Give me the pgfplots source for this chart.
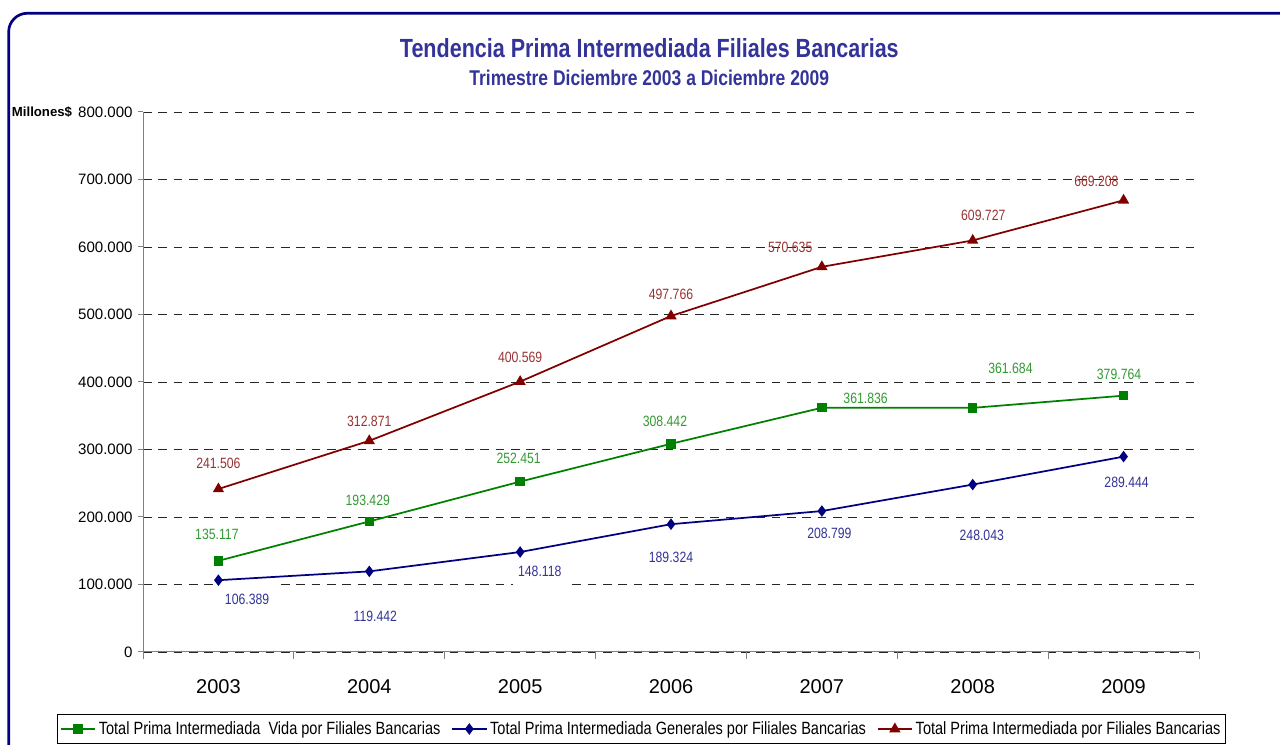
\documentclass[border=0pt]{standalone}
\usepackage{fontspec}
\setmainfont{Liberation Sans}
\newfontfamily\narrow{Liberation Sans}[FakeStretch=0.82]
\usepackage{pgfplots}
\pgfplotsset{compat=1.18}
\definecolor{frameblue}{HTML}{000080}
\definecolor{titleblue}{HTML}{333399}
\definecolor{sgreen}{HTML}{008000}
\definecolor{sblue}{HTML}{000080}
\definecolor{sred}{HTML}{800000}
\definecolor{lgreen}{HTML}{339933}
\definecolor{lblue}{HTML}{333399}
\definecolor{lred}{HTML}{993333}
\begin{document}
\begin{tikzpicture}[x=1pt,y=1pt]
\path[use as bounding box] (0,0) rectangle (960,558.75);
\draw[frameblue, line width=2pt, rounded corners=14pt] (6.5,548.8) rectangle (1000,-40);
\node[titleblue, font=\narrow\bfseries\fontsize{19.7}{23}\selectfont] at (487,522.75) {Tendencia Prima Intermediada Filiales Bancarias};
\node[titleblue, font=\narrow\bfseries\fontsize{16}{18}\selectfont] at (487,500.25) {Trimestre Diciembre 2003 a Diciembre 2009};
\node[font=\bfseries\fontsize{9.9}{11}\selectfont] at (31.5,474.75) {Millones\$};
\begin{axis}[
  at={(107.25pt,69.75pt)}, anchor=south west,
  scale only axis, width=792pt, height=405pt,
  xmin=-0.5, xmax=6.5, ymin=0, ymax=800,
  axis x line*=bottom, axis y line*=left,
  axis line style={draw=gray, line width=0.75pt},
  tick align=outside,
  major tick length=3.75pt, minor tick length=5pt,
  tick style={draw=gray, line width=0.75pt},
  xtick={0,1,2,3,4,5,6},
  xticklabels={2003,2004,2005,2006,2007,2008,2009},
  major x tick style={draw=none},
  minor xtick={-0.5,0.5,1.5,2.5,3.5,4.5,5.5,6.5},
  ytick={0,100,200,300,400,500,600,700,800},
  yticklabels={0,100.000,200.000,300.000,400.000,500.000,600.000,700.000,800.000},
  xticklabel style={font=\fontsize{15}{17}\selectfont, yshift=-13.5pt},
  yticklabel style={font=\fontsize{11.3}{13}\selectfont, xshift=-0.5pt},
  ymajorgrids,
  grid style={draw=black!85, line width=0.7pt, dash pattern=on 6.5pt off 5pt},
  legend columns=3,
  legend style={at={(0.472,-0.1426)}, anchor=center, draw=black, line width=0.75pt,
    fill=white, font=\narrow\fontsize{13.3}{15}\selectfont, inner xsep=2pt, inner ysep=3pt,
    /tikz/every even column/.append style={column sep=6pt}},
  legend image code/.code={\draw[mark repeat=2,mark phase=2,#1] plot coordinates {(0pt,0pt)(13pt,0pt)(26pt,0pt)};},
  legend cell align=left,
]
\addplot[sgreen, line width=1.3pt, mark=square*, mark size=2.9pt, mark options={solid, fill=sgreen}]
  coordinates {(0,135.117)(1,193.429)(2,252.451)(3,308.442)(4,361.836)(5,361.684)(6,379.764)};
\addlegendentry{Total Prima Intermediada\ \ Vida por Filiales Bancarias}
\addplot[sblue, line width=1.3pt, mark=diamond*, mark size=3.3pt, mark options={solid, fill=sblue}]
  coordinates {(0,106.389)(1,119.442)(2,148.118)(3,189.324)(4,208.799)(5,248.043)(6,289.444)};
\addlegendentry{Total Prima Intermediada Generales por Filiales Bancarias}
\addplot[sred, line width=1.3pt, mark=triangle*, mark size=3.6pt, mark options={solid, fill=sred}]
  coordinates {(0,241.506)(1,312.871)(2,400.569)(3,497.766)(4,570.635)(5,609.727)(6,669.208)};
\addlegendentry{Total Prima Intermediada por Filiales Bancarias}
% labels
\tikzset{dl/.style={font=\narrow\fontsize{11.2}{13}\selectfont, inner sep=0pt}}
\node[dl, lred] at (axis cs:0.00,280.0) {241.506};
\node[dl, lred] at (axis cs:1.00,342.2) {312.871};
\node[dl, lred] at (axis cs:2.00,437.0) {400.569};
\node[dl, lred] at (axis cs:3.00,530.4) {497.766};
\node[dl, lred] at (axis cs:3.79,600.0) {570.635};
\node[dl, lred] at (axis cs:5.07,647.4) {609.727};
\node[dl, lred] at (axis cs:5.82,697.0) {669.208};
\node[dl, lgreen] at (axis cs:-0.01,174.8) {135.117};
\node[dl, lgreen] at (axis cs:0.99,225.2) {193.429};
\node[dl, lgreen] at (axis cs:1.99,287.4) {252.451};
\node[dl, lgreen] at (axis cs:2.96,342.2) {308.442};
\node[dl, lgreen] at (axis cs:4.29,375.6) {361.836};
\node[dl, lgreen] at (axis cs:5.25,420.7) {361.684};
\node[dl, lgreen] at (axis cs:5.97,411.9) {379.764};
\node[dl, lblue, fill=white, inner xsep=4pt, inner ysep=7pt] at (axis cs:0.19,78.5) {106.389};
\node[dl, lblue] at (axis cs:1.04,53.3) {119.442};
\node[dl, lblue, fill=white, inner xsep=4pt, inner ysep=7pt] at (axis cs:2.13,119.3) {148.118};
\node[dl, lblue] at (axis cs:3.00,140.7) {189.324};
\node[dl, lblue] at (axis cs:4.05,176.3) {208.799};
\node[dl, lblue] at (axis cs:5.06,173.3) {248.043};
\node[dl, lblue] at (axis cs:6.02,251.1) {289.444};
\end{axis}
\end{tikzpicture}
\end{document}
